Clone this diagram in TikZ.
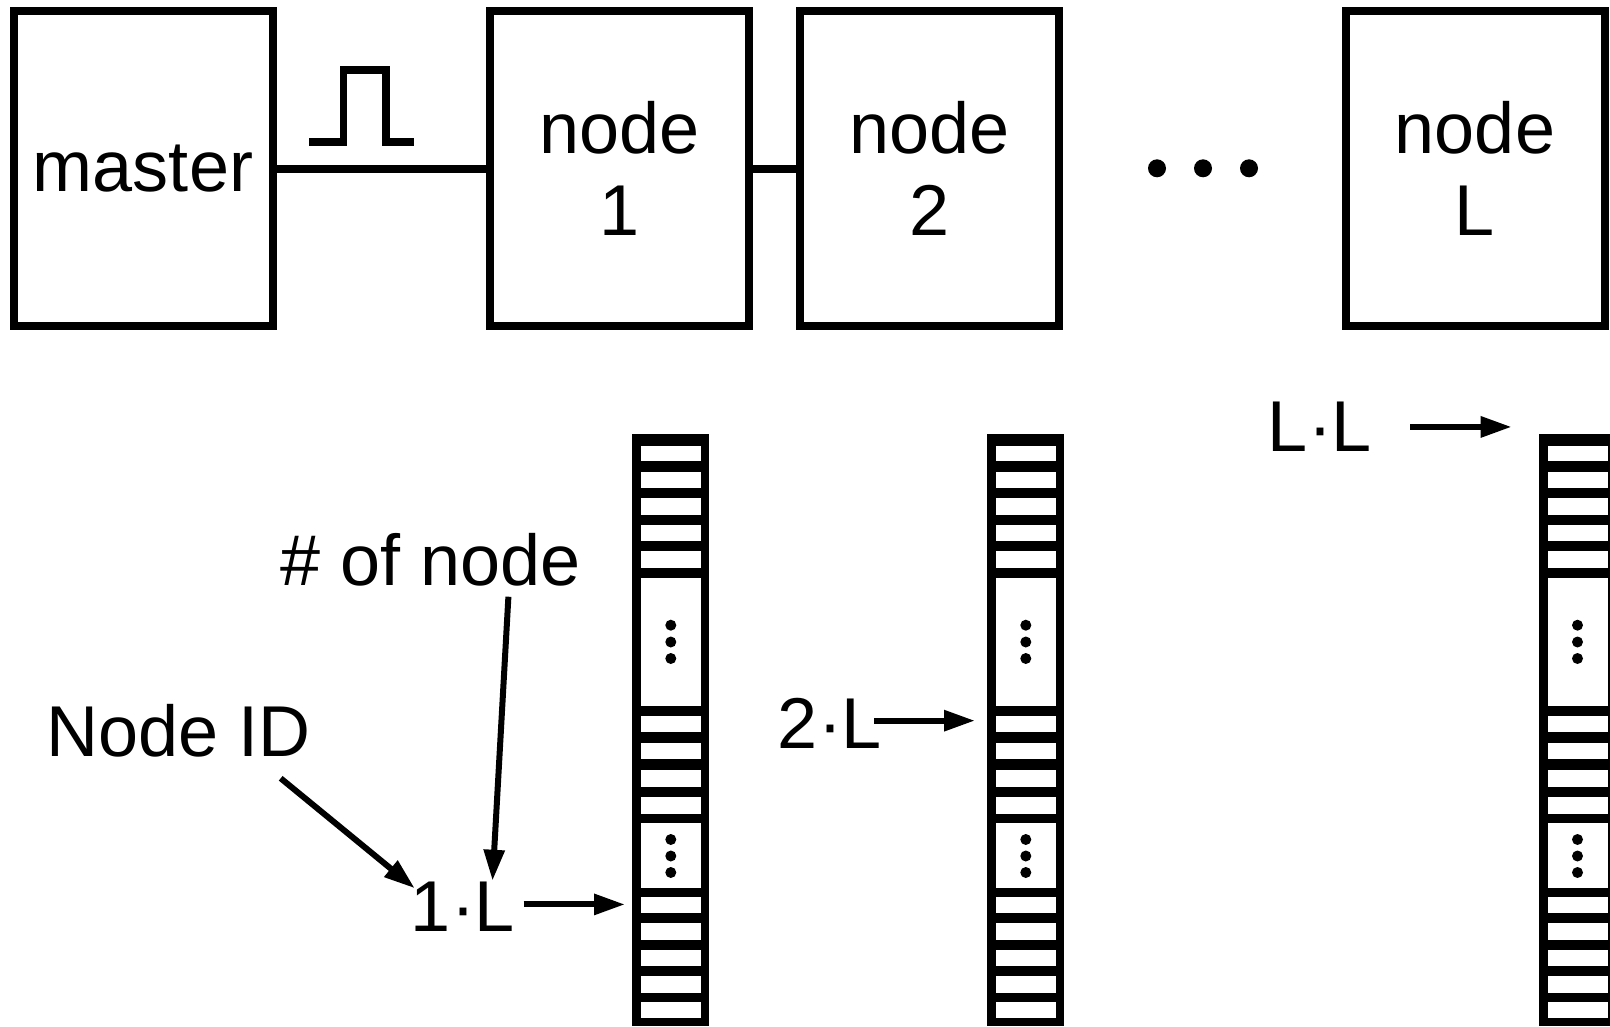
\documentclass[tikz,border=0pt]{standalone}
\usepackage{fontspec}
\setmainfont{Liberation Sans}
\usetikzlibrary{arrows.meta}
\tikzset{
  box/.style={draw, line width=8pt, minimum width=259pt, minimum height=314.7pt,
    inner sep=0pt, align=center, font=\fontsize{72}{81.7}\selectfont},
  conn/.style={line width=8pt},
  lab/.style={inner sep=0pt, font=\fontsize{72}{81.7}\selectfont},
  arr/.style={line width=6pt, -{Triangle[length=31pt,width=20pt]}},
  ladder/.style={fill=black, minimum width=77pt, minimum height=592.5pt,
    inner sep=0pt, outer sep=0pt},
}
\begin{document}
\begin{tikzpicture}[x=1pt,y=-1pt]
\useasboundingbox (0,0) rectangle (1610,1027);
\fill[white] (0,0) rectangle (1610,1027);
\clip (0,0) rectangle (1610,1027);

% top row
\node[box] (master) at (143,168.65) {master};
\node[box] (n1) at (619.1,168.65) {node\\1};
\node[box] (n2) at (929.1,168.65) {node\\2};
\node[box] (nL) at (1475,168.65) {node\\L};
\draw[conn] (master) -- (n1);
\draw[conn] (n1) -- (n2);
% pulse
\draw[line width=7.5pt] (309.3,142.2) -- (343.3,142.2) -- (343.3,70) -- (386,70)
  -- (386,142.2) -- (414.3,142.2);
% ellipsis
\foreach \x in {1157,1203,1249} \fill (\x,168.3) circle (9pt);

% ladders
\node[ladder] (c1) at (670.8,729.75) {};
\node[ladder] (c2) at (1025.8,729.75) {};
\node[ladder] (c3) at (1577.5,729.75) {};
\foreach \c in {c1,c2,c3}{
  \begin{scope}[shift={(\c.north west)}]
    \foreach \a/\b in {12/27.5, 38/54.5, 64.5/81, 91/107.5, 117.5/134, 144.5/272.5,
      282.5/298.5, 309/325.5, 336/353, 363/380, 389/454.5,
      463.5/479, 489.5/506, 516/532.5, 542/559, 568/584.5}
      \fill[white] (8.5,\a) rectangle (68.5,\b);
    \foreach \d in {191.7,208.5,225,406,422.5,439}
      \fill (38.5,\d) circle (5.5pt);
  \end{scope}
}

% labels
\node[lab, anchor=base] (nid) at (178.5,756.7) {Node ID};
\node[lab, anchor=base] (noa) at (430.6,585) {\# of node};
\node[lab, anchor=base] (l1) at (463,931.7) {1·L};
\node[lab, anchor=base] (l2) at (830,748.3) {2·L};
\node[lab, anchor=base] (l3) at (1320,451.7) {L·L};

% arrows
\coordinate (nidS) at (280.7,778.3);
\coordinate (noaS) at (508.4,596.7);
\draw[arr] (nidS) -- ([shift={(4,6.3)}]l1.north west);
\draw[arr] (noaS) -- ([shift={(29.5,-1.2)}]l1.north);
\draw[arr, shorten >=7.3pt] ([shift={(8.5,-2.5)}]l1.east) coordinate (t1) -- (c1.west |- t1);
\draw[arr, shorten >=12.3pt] ([shift={(-8,-2.5)}]l2.east) coordinate (t2) -- (c2.west |- t2);
\draw[arr, shorten >=27.3pt] ([shift={(38,0)}]l3.east) coordinate (t3) -- (c3.west |- t3);
\end{tikzpicture}
\end{document}
